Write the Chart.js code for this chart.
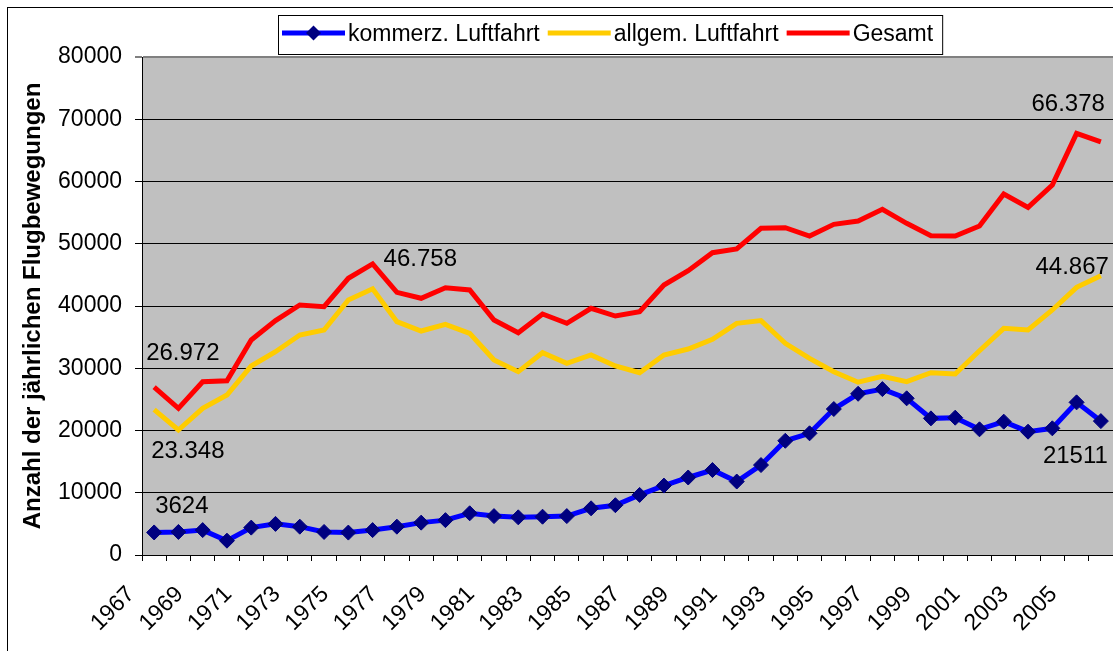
<!DOCTYPE html>
<html><head><meta charset="utf-8">
<script src="https://cdn.jsdelivr.net/npm/chart.js@4.4.1/dist/chart.umd.min.js"></script>
<style>html,body{margin:0;padding:0;background:#fff;}#wrap{position:relative;width:1113px;height:651px;}</style>
</head><body><div id="wrap"><canvas id="c" width="1113" height="651"></canvas></div>
<script>
const years = ['1967','1968','1969','1970','1971','1972','1973','1974','1975','1976',
  '1977','1978','1979','1980','1981','1982','1983','1984','1985','1986',
  '1987','1988','1989','1990','1991','1992','1993','1994','1995','1996',
  '1997','1998','1999','2000','2001','2002','2003','2004','2005','2006'];
const kommerz = [3624,3700,4000,2300,4400,5000,4550,3700,3600,4000,
  4550,5200,5600,6700,6250,6050,6150,6250,7500,8000,
  9650,11150,12450,13650,11800,14450,18350,19550,23450,25900,
  26650,25170,21950,22060,20190,21420,19810,20350,24520,21511];
const allgem = [23348,20080,23560,25700,30360,32660,35340,36140,40960,42758,
  37480,35980,37060,35610,31320,29450,32500,30790,32130,30360,
  29290,32130,33090,34650,37220,37650,34000,31590,29450,27760,
  28700,27840,29290,29080,32820,36410,36140,39360,43000,44867];
const gesamt = [26972,23560,27840,28000,34540,37650,40160,39890,44450,46758,
  42200,41240,42940,42570,37750,35710,38710,37220,39630,38390,
  39090,43370,45670,48560,49160,52480,52580,51240,53120,53650,
  55530,53280,51270,51240,52850,57990,55850,59440,67740,66378];
const seriesNames = ['kommerz. Luftfahrt','allgem. Luftfahrt','Gesamt'];
const yAxisTitle = 'Anzahl der jährlichen Flugbewegungen';
const yMin = 0, yMax = 80000, yStep = 10000;
// indices of points that carry a value label
const labeledKommerz = [0, 39];
const labeledAllgem = [0, 39];
const labeledGesamt = [0, 9, 39];

const FONT = "'Liberation Sans', Arial, Helvetica, sans-serif";
const fmtDE = v => String(v).replace(/\B(?=(\d{3})+(?!\d))/g, '.');

const deco = {
  id: 'deco',
  beforeDraw(chart) {
    const {ctx, chartArea: a} = chart;
    ctx.save();
    ctx.fillStyle = '#fff';
    ctx.fillRect(0, 0, chart.width, chart.height);
    ctx.strokeStyle = '#000';
    ctx.lineWidth = 1;
    ctx.strokeRect(7.5, 7.5, chart.width + 20, chart.height + 20);
    ctx.fillStyle = '#C0C0C0';
    ctx.fillRect(a.left, a.top, a.right - a.left, a.bottom - a.top);
    ctx.restore();
  },
  afterDatasetsDraw(chart) {
    const ctx = chart.ctx;
    const pt = (ds, i) => chart.getDatasetMeta(ds).data[i];
    ctx.save();
    ctx.font = '24px ' + FONT;
    ctx.fillStyle = '#000';
    ctx.textBaseline = 'middle';
    const put = (ds, i, text, dx, dy, align) => {
      const p = pt(ds, i);
      ctx.textAlign = align;
      ctx.fillText(text, p.x + dx, p.y + dy);
    };
    const last = years.length - 1;
    labeledGesamt.forEach(i => {
      const t = fmtDE(gesamt[i]);
      if (i === 0) put(2, i, t, -8, -34, 'left');
      else if (i === last) put(2, i, t, 4, -37, 'right');
      else put(2, i, t, 11, -5, 'left');
    });
    labeledAllgem.forEach(i => {
      const t = fmtDE(allgem[i]);
      if (i === 0) put(1, i, t, -3, 42, 'left');
      else put(1, i, t, 8, -8, 'right');
    });
    labeledKommerz.forEach(i => {
      const t = String(kommerz[i]);
      if (i === 0) put(0, i, t, 1, -26, 'left');
      else put(0, i, t, 7, 35, 'right');
    });
    ctx.restore();
  },
  afterDraw(chart) {
    const ctx = chart.ctx;
    ctx.save();
    ctx.font = '23px ' + FONT;
    const x0 = 278, y0 = 15, h = 39, cy = 33;
    const lineLen = 63, gapT = 3, gapI = 8;
    let x = x0 + 4;
    const items = chart.data.datasets.map(d => ({label: d.label, color: d.borderColor, marker: d.pointRadius > 0 ? d.pointBackgroundColor : null}));
    const widths = items.map(it => ctx.measureText(it.label).width);
    let total = 4;
    items.forEach((it, k) => { total += lineLen + gapT + widths[k] + (k < items.length - 1 ? gapI : 9); });
    ctx.fillStyle = '#fff';
    ctx.fillRect(x0, y0, total, h);
    ctx.strokeStyle = '#000';
    ctx.lineWidth = 1;
    ctx.strokeRect(x0 + 0.5, y0 + 0.5, total, h);
    items.forEach((it, k) => {
      ctx.strokeStyle = it.color;
      ctx.lineWidth = 5;
      ctx.beginPath();
      ctx.moveTo(x, cy);
      ctx.lineTo(x + lineLen, cy);
      ctx.stroke();
      if (it.marker) {
        const mx = x + lineLen / 2, r = 7.5;
        ctx.fillStyle = it.marker;
        ctx.beginPath();
        ctx.moveTo(mx, cy - r); ctx.lineTo(mx + r, cy); ctx.lineTo(mx, cy + r); ctx.lineTo(mx - r, cy);
        ctx.closePath();
        ctx.fill();
      }
      x += lineLen + gapT;
      ctx.fillStyle = '#000';
      ctx.textAlign = 'left';
      ctx.textBaseline = 'middle';
      ctx.fillText(it.label, x, cy + 2);
      x += widths[k] + gapI;
    });
    ctx.restore();
  }
};

new Chart(document.getElementById('c'), {
  type: 'line',
  data: {
    labels: years,
    datasets: [
      {label: seriesNames[0], data: kommerz, borderColor: '#0000FF', backgroundColor: '#0000FF',
       borderWidth: 5, tension: 0, pointStyle: 'rectRot', pointRadius: 7.5,
       pointBackgroundColor: '#000080', pointBorderColor: '#000080', pointBorderWidth: 1},
      {label: seriesNames[1], data: allgem, borderColor: '#FFCC00', backgroundColor: '#FFCC00',
       borderWidth: 5, tension: 0, pointRadius: 0},
      {label: seriesNames[2], data: gesamt, borderColor: '#FF0000', backgroundColor: '#FF0000',
       borderWidth: 5, tension: 0, pointRadius: 0}
    ]
  },
  options: {
    responsive: false,
    animation: false,
    devicePixelRatio: 1,
    layout: {autoPadding: false, padding: {top: 57, left: 0, right: 0, bottom: 0}},
    plugins: {legend: {display: false}, tooltip: {enabled: false}},
    scales: {
      x: {
        offset: true,
        grid: {offset: true, drawOnChartArea: false, tickLength: 6, color: '#000'},
        border: {color: '#000', width: 1},
        ticks: {
          autoSkip: false, minRotation: 45, maxRotation: 45, padding: 20, labelOffset: -23,
          color: '#000', font: {family: FONT, size: 23},
          callback: function(v, i) { return i % 2 === 0 ? this.getLabelForValue(v) : ''; }
        },
        afterFit(s) { s.height = 96; s.paddingLeft = 0; s.paddingRight = 0; }
      },
      y: {
        min: yMin, max: yMax,
        grid: {
          tickLength: 7,
          color: c => c.tick && c.tick.value === yMax ? '#808080' : '#000',
          lineWidth: c => c.tick && c.tick.value === yMax ? 2 : 1
        },
        border: {color: '#000', width: 1},
        ticks: {stepSize: yStep, padding: 13, color: '#000', font: {family: FONT, size: 23},
          callback: v => String(v)},
        title: {display: true, text: yAxisTitle, color: '#000',
          font: {family: FONT, size: 24, weight: 'bold'}, padding: {top: 19, bottom: 0}},
        afterFit(s) { s.width = 142; s.paddingTop = 0; s.paddingBottom = 0; }
      }
    }
  },
  plugins: [deco]
});
</script>
</body></html>
